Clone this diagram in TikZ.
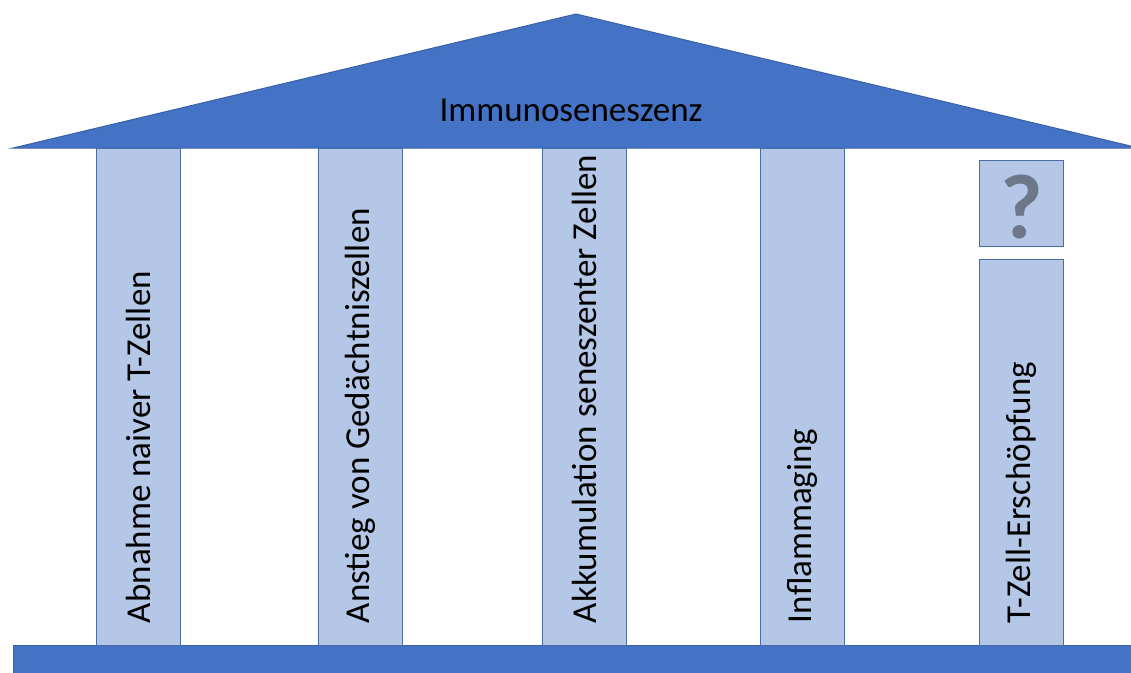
\documentclass[tikz,border=0pt]{standalone}
\usepackage{fontspec}
\setmainfont{Carlito}
\usetikzlibrary{calc}
\definecolor{roofblue}{HTML}{4472C4}
\definecolor{roofedge}{HTML}{3A62A8}
\definecolor{colfill}{HTML}{B4C7E7}
\definecolor{coledge}{HTML}{4A6DA6}
\definecolor{qgray}{HTML}{6C7789}
\tikzset{
  roof/.style={fill=roofblue, draw=roofedge, line width=1pt},
  colbox/.style={fill=colfill, draw=coledge, line width=1.2pt, inner sep=0pt, minimum width=84pt, anchor=north west},
  coltext/.style={rotate=90, anchor=west, font=\fontsize{35}{38}\selectfont, text=black, inner sep=0pt},
}
\begin{document}
\begin{tikzpicture}[x=1pt,y=1pt]
\useasboundingbox (0,0) rectangle (1131,-672);
% roof
\path[roof] (13,-148) -- (576,-14) -- (1139,-148) -- cycle;
\node[font=\fontsize{35}{38}\selectfont, inner sep=0pt] (title) at (571,-110) {Immunoseneszenz};
% base
\path[roof] (13,-645) rectangle (1140,-680);
% columns
\node[colbox, minimum height=497pt] (c1) at (96,-148) {};
\node[colbox, minimum height=497pt] (c2) at (318,-148) {};
\node[colbox, minimum height=497pt] (c3) at (542,-148) {};
\node[colbox, minimum height=497pt] (c4) at (760,-148) {};
\node[colbox, minimum height=386pt] (c5) at (979,-259) {};
\node[colbox, minimum height=86pt] (q) at (979,-160) {};
\node[font=\fontsize{92}{92}\bfseries\selectfont, text=qgray, inner sep=0pt] (qm) at ($(q.center)+(0,-3)$) {?};
% labels
\node[coltext] (t1) at ($(c1.south)+(0,23)$) {Abnahme naiver T-Zellen};
\node[coltext] (t2) at ($(c2.south)+(0,23)$) {Anstieg von Gedächtniszellen};
\node[coltext] (t3) at ($(c3.south)+(0,23)$) {Akkumulation seneszenter Zellen};
\node[coltext] (t4) at ($(c4.south)+(0,23)$) {Inflammaging};
\node[coltext] (t5) at ($(c5.south)+(0,23)$) {T-Zell-Erschöpfung};
\end{tikzpicture}
\end{document}
